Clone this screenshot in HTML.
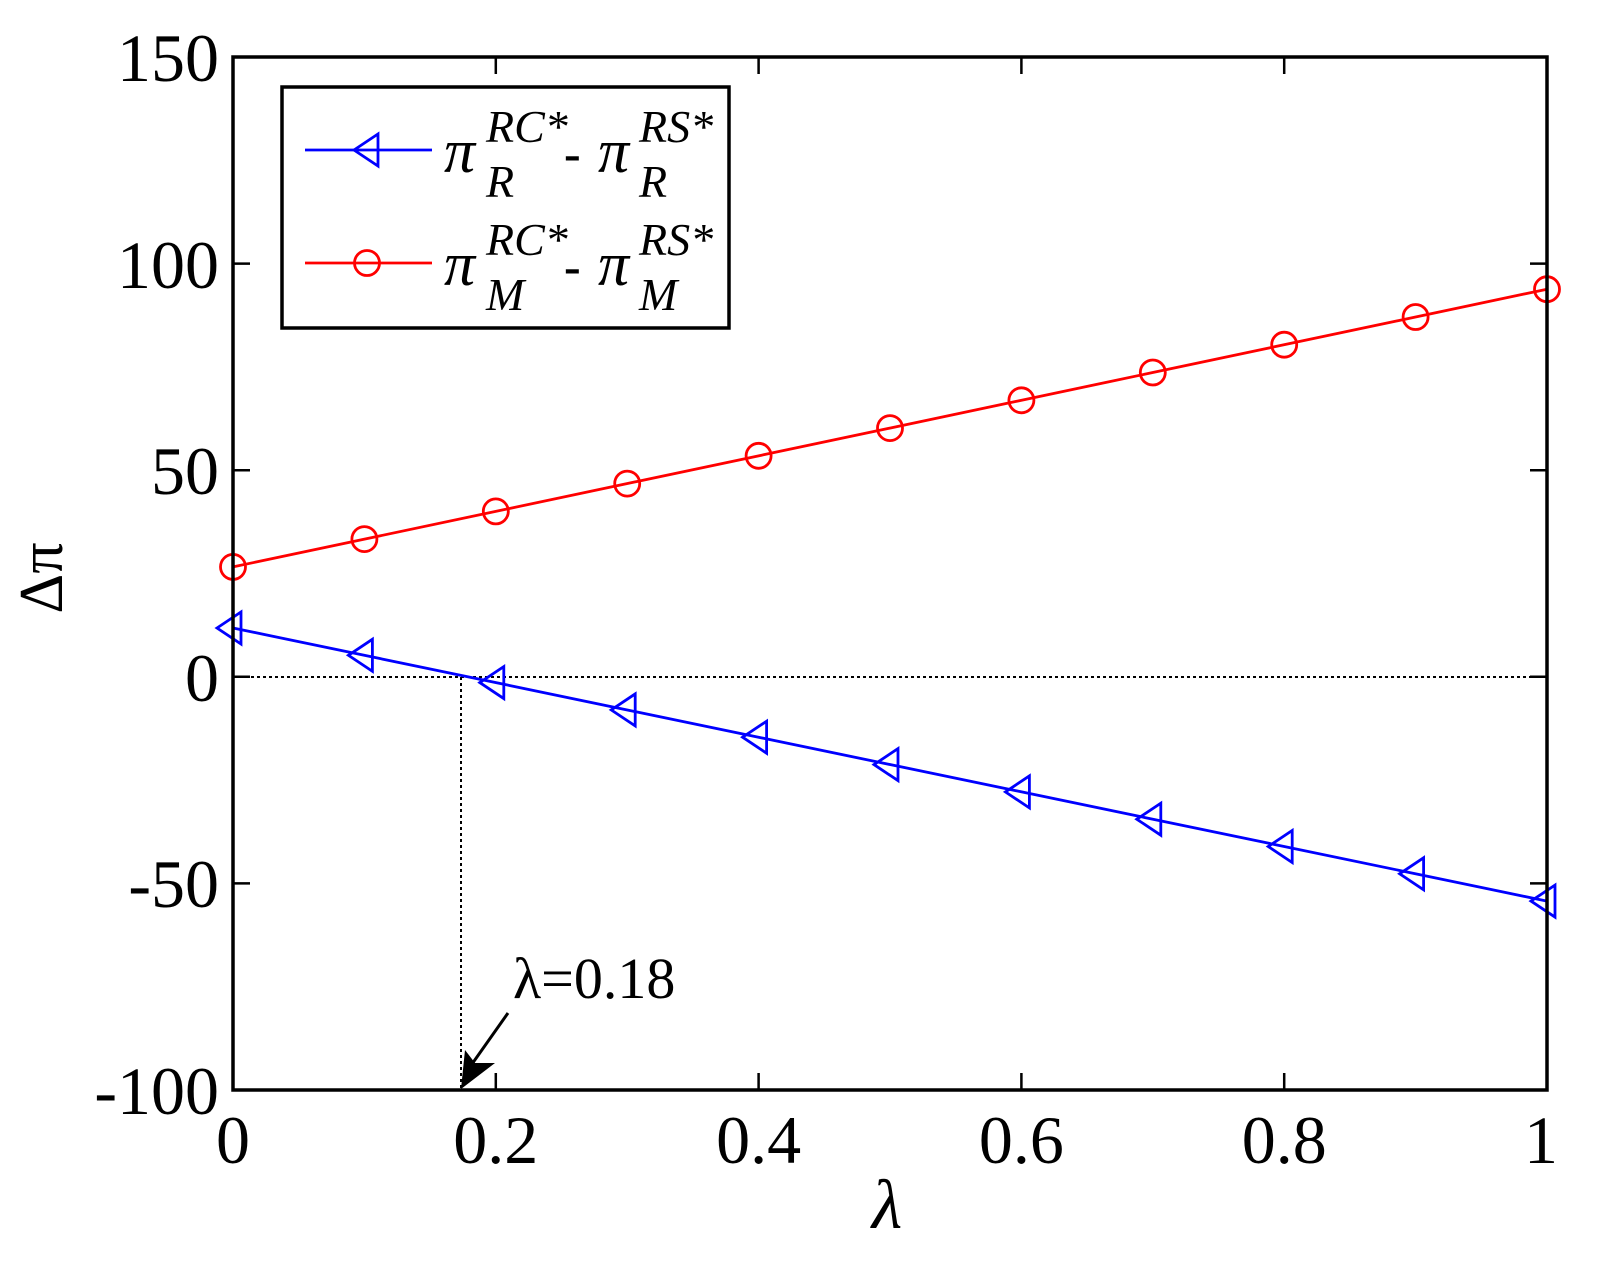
<!DOCTYPE html>
<html><head><meta charset="utf-8"><style>html,body{margin:0;padding:0;background:#fff}svg{display:block}</style></head>
<body>
<svg width="1600" height="1264" viewBox="0 0 1600 1264" xmlns="http://www.w3.org/2000/svg" font-family="Liberation Serif, serif">
<defs>
<path id="tri" d="M-16,0 L8,-16 L8,16 Z" fill="none" stroke="#0000ff" stroke-width="2.8"/>
<circle id="cir" r="12.5" fill="none" stroke="#ff0000" stroke-width="2.8"/>
</defs>
<line x1="233" y1="677" x2="1547" y2="677" stroke="#000" stroke-width="2" stroke-dasharray="3,3"/>
<line x1="461" y1="677" x2="461" y2="1090" stroke="#000" stroke-width="2" stroke-dasharray="3,3"/>
<line x1="233" y1="566.9" x2="1547" y2="289.2" stroke="#ff0000" stroke-width="2.8"/>
<line x1="233" y1="628" x2="1547" y2="901.1" stroke="#0000ff" stroke-width="2.8"/>
<g>
<use href="#cir" x="233" y="566.9"/><use href="#cir" x="364.4" y="539.1"/><use href="#cir" x="495.8" y="511.4"/><use href="#cir" x="627.2" y="483.6"/><use href="#cir" x="758.6" y="455.8"/><use href="#cir" x="890" y="428.1"/><use href="#cir" x="1021.4" y="400.3"/><use href="#cir" x="1152.8" y="372.5"/><use href="#cir" x="1284.2" y="344.7"/><use href="#cir" x="1415.6" y="317"/><use href="#cir" x="1547" y="289.2"/>
<use href="#tri" x="233" y="628"/><use href="#tri" x="364.4" y="655.3"/><use href="#tri" x="495.8" y="682.6"/><use href="#tri" x="627.2" y="709.9"/><use href="#tri" x="758.6" y="737.2"/><use href="#tri" x="890" y="764.6"/><use href="#tri" x="1021.4" y="791.9"/><use href="#tri" x="1152.8" y="819.2"/><use href="#tri" x="1284.2" y="846.5"/><use href="#tri" x="1415.6" y="873.8"/><use href="#tri" x="1547" y="901.1"/>
</g>
<rect x="233" y="57" width="1314" height="1033" fill="none" stroke="#000" stroke-width="3.5"/>
<g stroke="#000" stroke-width="2.5">
<path d="M233,57h17M233,263.6h17M233,470.2h17M233,676.8h17M233,883.4h17M233,1090h17"/>
<path d="M1547,57h-17M1547,263.6h-17M1547,470.2h-17M1547,676.8h-17M1547,883.4h-17M1547,1090h-17"/>
<path d="M233,1090v-17M495.8,1090v-17M758.6,1090v-17M1021.4,1090v-17M1284.2,1090v-17M1547,1090v-17"/>
<path d="M233,57v17M495.8,57v17M758.6,57v17M1021.4,57v17M1284.2,57v17M1547,57v17"/>
</g>
<g font-size="68" text-anchor="end" fill="#000">
<text x="219" y="81">150</text><text x="219" y="288">100</text><text x="219" y="494">50</text><text x="219" y="701">0</text><text x="219" y="907">-50</text><text x="219" y="1114">-100</text>
</g>
<g font-size="68" text-anchor="middle" fill="#000">
<text x="233" y="1163">0</text><text x="495.8" y="1163">0.2</text><text x="758.6" y="1163">0.4</text><text x="1021.4" y="1163">0.6</text><text x="1284.2" y="1163">0.8</text><text x="1541" y="1163">1</text>
</g>
<text x="887" y="1228" font-size="70" font-style="italic" text-anchor="middle">λ</text>
<text transform="translate(62,578) rotate(-90)" font-size="62" text-anchor="middle">Δπ</text>
<text x="513" y="998" font-size="58">λ=0.18</text>
<line x1="508" y1="1013" x2="472" y2="1064" stroke="#000" stroke-width="3"/>
<path d="M461,1089 L465,1050 L475,1063 L495,1063 Z" fill="#000"/>
<rect x="282" y="87" width="447" height="241" fill="#fff" stroke="#000" stroke-width="3.5"/>
<line x1="305" y1="150" x2="432" y2="150" stroke="#0000ff" stroke-width="2.8"/>
<use href="#tri" x="370" y="150"/>
<line x1="305" y1="263" x2="432" y2="263" stroke="#ff0000" stroke-width="2.8"/>
<use href="#cir" x="367" y="263"/>
<g font-size="46" font-style="italic" fill="#000">
<text x="444" y="172" font-size="62">π</text><text x="486" y="142">RC*</text><text x="486" y="197">R</text>
<text x="564" y="170" font-style="normal" font-size="50" font-weight="bold">-</text>
<text x="598" y="172" font-size="62">π</text><text x="639" y="142">RS*</text><text x="639" y="197">R</text>
<text x="444" y="285" font-size="62">π</text><text x="486" y="255">RC*</text><text x="486" y="310">M</text>
<text x="564" y="283" font-style="normal" font-size="50" font-weight="bold">-</text>
<text x="598" y="285" font-size="62">π</text><text x="639" y="255">RS*</text><text x="639" y="310">M</text>
</g>
</svg>
</body></html>
